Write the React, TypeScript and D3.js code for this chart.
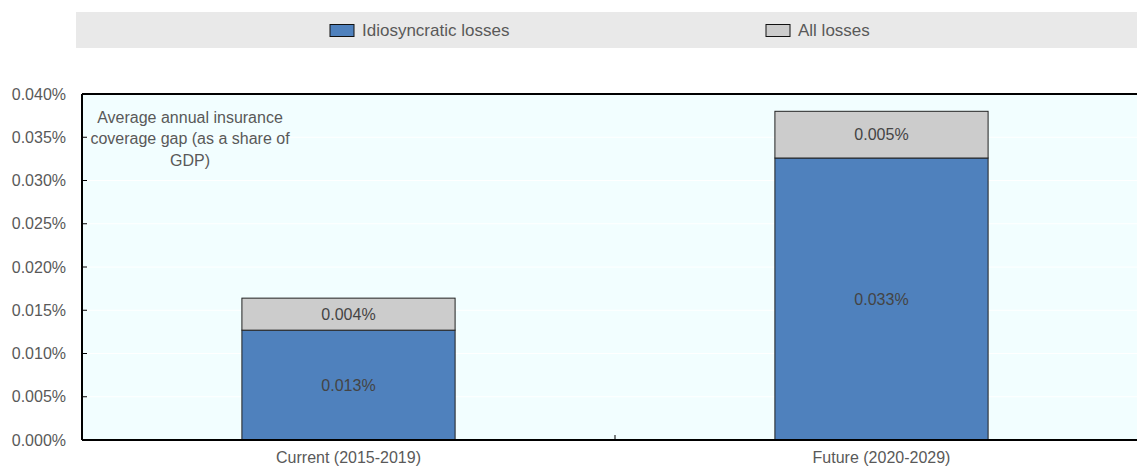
import React from "react";
import * as d3 from "d3";

const categories = ["Current (2015-2019)", "Future (2020-2029)"];
const idiosyncratic = [0.0127, 0.0326];
const allLossesExtra = [0.0037, 0.0054];
const idioLabels = ["0.013%", "0.033%"];
const allLabels = ["0.004%", "0.005%"];
const yTicks = [0, 0.005, 0.01, 0.015, 0.02, 0.025, 0.03, 0.035, 0.04];
const seriesNames = ["Idiosyncratic losses", "All losses"];
const annotation = ["Average annual insurance", "coverage gap (as a share of", "GDP)"];

const W = 1137;
const H = 466;
const FONT = "'Liberation Sans Narrow', 'Arial Narrow', 'Liberation Sans', Arial, sans-serif";
const BLUE = "#4F81BD";
const GREY = "#CCCCCC";
const TXT = "#595959";

export default function App() {
  const left = 82;
  const top = 94;
  const bottom = 440;
  const x = d3.scaleBand<string>().domain(categories).range([left, 1148]).paddingInner(0.6).paddingOuter(0.3);
  const y = d3.scaleLinear().domain([0, 0.04]).range([bottom, top]);
  const bw = x.bandwidth();
  const fmt = (v: number) => d3.format(".3f")(v) + "%";

  return (
    <svg width={W} height={H} style={{ position: "absolute", left: 0, top: 0, fontFamily: FONT }}>
      {/* legend */}
      <rect x={76} y={12} width={W - 76} height={36} fill="#E9E9E9" />
      {seriesNames.map((s, i) => {
        const lx = i === 0 ? 330 : 766;
        return (
          <g key={s}>
            <rect x={lx} y={24.5} width={24} height={12} fill={i === 0 ? BLUE : GREY} stroke="#111" strokeWidth={1} />
            <text x={lx + 32} y={36} fontSize={17} fill={TXT}>{s}</text>
          </g>
        );
      })}

      {/* plot background */}
      <rect x={left} y={top} width={W - left} height={bottom - top} fill="#F2FEFF" />
      {yTicks.map((t) => (
        <line key={"g" + t} x1={left} x2={W} y1={y(t)} y2={y(t)} stroke="#FFFFFF" strokeWidth={1} />
      ))}

      {/* bars */}
      {categories.map((c, i) => {
        const bx = x(c)!;
        const y0 = y(0);
        const y1 = y(idiosyncratic[i]);
        const y2 = y(idiosyncratic[i] + allLossesExtra[i]);
        return (
          <g key={c}>
            <rect x={bx} y={y1} width={bw} height={y0 - y1} fill={BLUE} stroke="#222" strokeWidth={1} />
            <rect x={bx} y={y2} width={bw} height={y1 - y2} fill={GREY} stroke="#222" strokeWidth={1} />
            <text x={bx + bw / 2} y={(y0 + y1) / 2} dy="0.35em" textAnchor="middle" fontSize={16} fill="#444">{idioLabels[i]}</text>
            <text x={bx + bw / 2} y={(y1 + y2) / 2} dy="0.35em" textAnchor="middle" fontSize={16} fill="#444">{allLabels[i]}</text>
          </g>
        );
      })}

      {/* axes */}
      <line x1={left} x2={W} y1={top} y2={top} stroke="#000" strokeWidth={2} />
      <line x1={left} x2={W} y1={bottom} y2={bottom} stroke="#000" strokeWidth={2} />
      <line x1={left} x2={left} y1={top} y2={bottom} stroke="#000" strokeWidth={2} />
      {yTicks.map((t) => (
        <g key={"t" + t}>
          <line x1={left} x2={left + 5} y1={y(t)} y2={y(t)} stroke="#000" strokeWidth={1} />
          <text x={66} y={y(t)} dy="0.35em" textAnchor="end" fontSize={16} fill={TXT}>{fmt(t * 1)}</text>
        </g>
      ))}
      <line x1={(x(categories[0])! + bw + x(categories[1])!) / 2} x2={(x(categories[0])! + bw + x(categories[1])!) / 2} y1={bottom} y2={bottom - 5} stroke="#000" strokeWidth={1} />
      {categories.map((c) => (
        <text key={"xl" + c} x={x(c)! + bw / 2} y={457} dy="0.35em" textAnchor="middle" fontSize={16} fill={TXT}>{c}</text>
      ))}

      {/* annotation */}
      {annotation.map((l, i) => (
        <text key={l} x={190} y={117 + i * 21.5} dy="0.35em" textAnchor="middle" fontSize={16} fill={TXT}>{l}</text>
      ))}
    </svg>
  );
}
